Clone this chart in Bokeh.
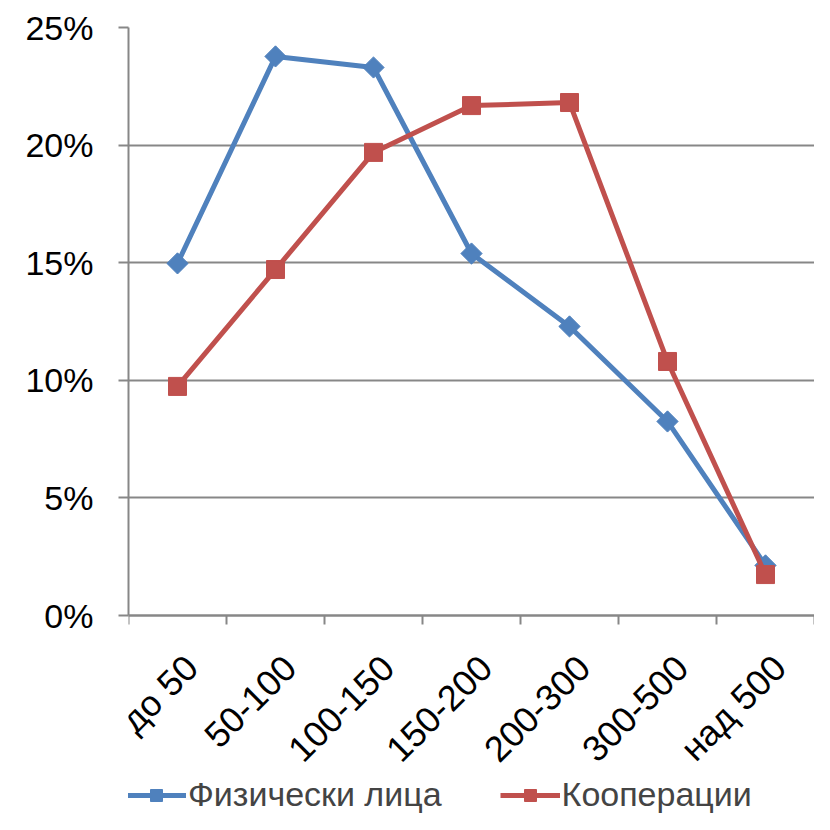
from bokeh.plotting import figure
from bokeh.models import (FixedTicker, NumeralTickFormatter, Range1d, Legend, LegendItem,
                          ColumnDataSource, LinearAxis)
from bokeh.core.properties import value
from bokeh.embed import file_html
from bokeh.resources import INLINE

categories = ["до 50", "50-100", "100-150", "150-200", "200-300", "300-500", "над 500"]
fiz_lica = [0.1497, 0.2377, 0.2330, 0.1539, 0.1229, 0.0825, 0.0213]
kooperacii = [0.0974, 0.1471, 0.1969, 0.2168, 0.2181, 0.1080, 0.0174]
series_names = ["Физически лица", "Кооперации"]
y_ticks = [0, 0.05, 0.10, 0.15, 0.20, 0.25]

xs = [i + 0.5 for i in range(len(categories))]
src = ColumnDataSource(dict(x=xs, fiz=fiz_lica, koop=kooperacii))
lab = ColumnDataSource(dict(x=xs, y=[0] * len(xs), text=categories))

W, H = 814, 814
TOP, LEFT, AXIS_Y = 27, 128, 615
y_min = -0.25 * (H - AXIS_Y) / (AXIS_Y - TOP)

p = figure(width=W, height=H, output_backend="svg", toolbar_location=None,
           x_range=Range1d(0, len(categories)), y_range=Range1d(y_min, 0.25),
           x_axis_location=None,
           min_border_left=LEFT, min_border_right=0, min_border_top=TOP, min_border_bottom=0)
p.outline_line_color = None
p.background_fill_color = "white"

blue = "#4F81BD"
red = "#C0504D"
grey = "#878787"

l1 = p.line("x", "fiz", source=src, line_color=blue, line_width=5)
m1 = p.scatter("x", "fiz", source=src, marker="square", angle=0.785398, size=15,
               fill_color=blue, line_color=blue)
l2 = p.line("x", "koop", source=src, line_color=red, line_width=5)
m2 = p.scatter("x", "koop", source=src, marker="square", size=18, fill_color=red, line_color=red)

# x axis drawn at y = 0 (ticks at category boundaries)
xaxis = LinearAxis(fixed_location=0,
                   ticker=FixedTicker(ticks=[], minor_ticks=list(range(len(categories) + 1))),
                   axis_line_color=grey, axis_line_width=2,
                   major_tick_line_color=None, major_tick_in=0, major_tick_out=0,
                   minor_tick_line_color=grey, minor_tick_line_width=2,
                   minor_tick_in=9, minor_tick_out=0,
                   major_label_text_font_size="0px")
p.add_layout(xaxis, "above")

# category labels, rotated 45 degrees
p.text("x", "y", text="text", source=lab, angle=0.785398,
       x_offset=14, y_offset=46, text_align="right", text_baseline="middle",
       text_font=value("Liberation Sans"), text_font_size="36px", text_color="black")

# y axis
p.yaxis.bounds = (0, 0.25)
p.yaxis.ticker = FixedTicker(ticks=y_ticks)
p.yaxis.formatter = NumeralTickFormatter(format="0%")
p.yaxis.axis_line_color = grey
p.yaxis.axis_line_width = 2
p.yaxis.major_tick_line_color = grey
p.yaxis.major_tick_line_width = 2
p.yaxis.major_tick_out = 10
p.yaxis.major_tick_in = 0
p.yaxis.minor_tick_line_color = None
p.yaxis.major_label_text_font = "Liberation Sans"
p.yaxis.major_label_text_font_size = "34px"
p.yaxis.major_label_text_color = "black"
p.yaxis.major_label_standoff = 25
p.ygrid.grid_line_color = grey
p.ygrid.grid_line_width = 2
p.xgrid.visible = False

legend = Legend(items=[LegendItem(label=series_names[0], renderers=[l1, m1]),
                       LegendItem(label=series_names[1], renderers=[l2, m2])],
                orientation="horizontal", location=(-2, 0),
                label_text_font="Liberation Sans", label_text_font_size="34px",
                glyph_width=60, glyph_height=30, spacing=58, label_standoff=2,
                border_line_color=None, background_fill_alpha=0, margin=0, padding=0)
p.add_layout(legend, "center")

open("out.html", "w").write(file_html(p, INLINE))
